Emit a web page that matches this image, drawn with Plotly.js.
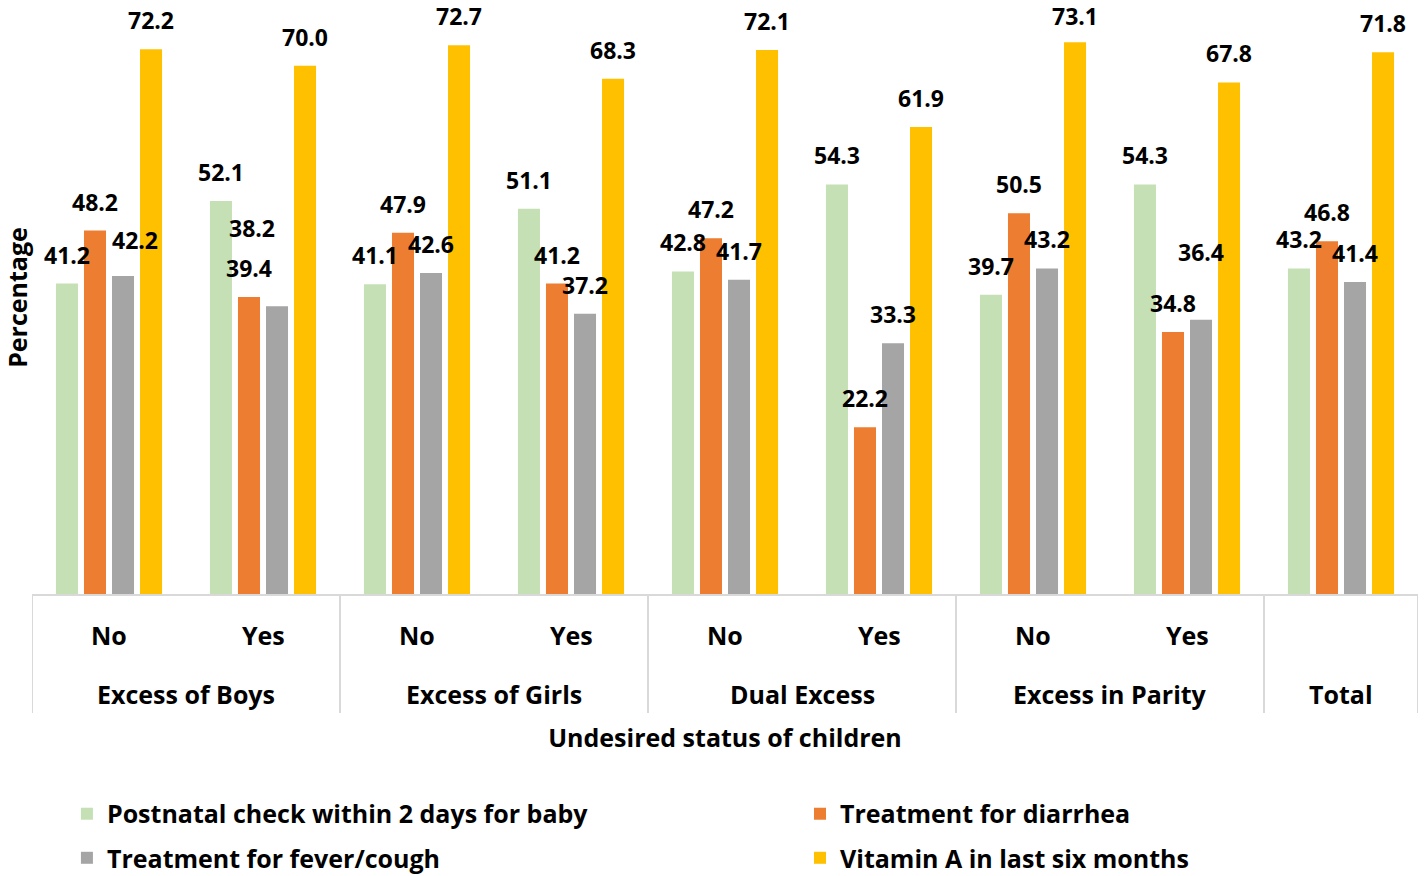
<!DOCTYPE html>
<html>
<head>
<meta charset="utf-8">
<script src="https://cdn.plot.ly/plotly-3.0.1.min.js"></script>
<style>html,body{margin:0;padding:0;background:#fff;}#chart{width:1424px;height:876px;}</style>
</head>
<body>
<div id="chart"></div>
<script>
// ---------------- DATA ----------------
const subLabels = ["No", "Yes", "No", "Yes", "No", "Yes", "No", "Yes", ""];
const groupOf = ["Excess of Boys", "Excess of Boys", "Excess of Girls", "Excess of Girls",
                 "Dual Excess", "Dual Excess", "Excess in Parity", "Excess in Parity", "Total"];
const seriesNames = ["Postnatal check within 2 days for baby", "Treatment for diarrhea",
                     "Treatment for fever/cough", "Vitamin A in last six months"];
const postnatal = [41.2, 52.1, 41.1, 51.1, 42.8, 54.3, 39.7, 54.3, 43.2];
const diarrhea  = [48.2, 39.4, 47.9, 41.2, 47.2, 22.2, 50.5, 34.8, 46.8];
const fever     = [42.2, 38.2, 42.6, 37.2, 41.7, 33.3, 43.2, 36.4, 41.4];
const vitaminA  = [72.2, 70.0, 72.7, 68.3, 72.1, 61.9, 73.1, 67.8, 71.8];
const xTitle = "Undesired status of children";
const yTitle = "Percentage";

// ---------------- STYLE ----------------
const FONT = "'Open Sans', Lato, sans-serif";
const colors = ["#c5e0b4", "#ed7d31", "#a5a5a5", "#ffc000"];
const barWidth = 0.143;
const barCenters = [-0.273, -0.091, 0.091, 0.273];
const labelShift = 29;      // px above bar top
// manual label nudges (series index - category index): [dx px, dy px]
const labelNudges = {"2-0": [12, 36], "2-1": [-25, 78], "2-7": [0, 68], "3-6": [0, 26]};
const lineColor = "#d9d9d9";
// legend entry placement (container fractions): [x, y]
const legendPos = [[0.0470, 0.0708], [0.5618, 0.0708], [0.0470, 0.0205], [0.5618, 0.0205]];

const allSeries = [postnatal, diarrhea, fever, vitaminA];
const xIdx = subLabels.map((_, i) => i);
const legendIds = ["legend", "legend2", "legend3", "legend4"];

const traces = allSeries.map((vals, s) => ({
  type: "bar",
  name: seriesNames[s],
  x: xIdx,
  y: vals,
  width: barWidth,
  offset: barCenters[s] - barWidth / 2,
  marker: {color: colors[s]},
  hoverinfo: "y+name",
  legend: legendIds[s]
}));

const annotations = [];
// data labels
allSeries.forEach((vals, s) => {
  vals.forEach((v, i) => {
    const n = labelNudges[s + "-" + i] || [0, labelShift];
    annotations.push({
      x: i + barCenters[s], y: v, xref: "x", yref: "y",
      text: v.toFixed(1), showarrow: false,
      xshift: n[0], yshift: n[1],
      xanchor: "center", yanchor: "middle",
      font: {family: FONT, size: 23, color: "#000", weight: "bold"}
    });
  });
});
// first-level category labels
subLabels.forEach((t, i) => {
  if (!t) return;
  annotations.push({
    x: i, y: 0, xref: "x", yref: "paper", yshift: -40,
    text: t, showarrow: false, xanchor: "center", yanchor: "middle",
    font: {family: FONT, size: 25, color: "#000", weight: "bold"}
  });
});
// group labels and separators
const groups = [];
groupOf.forEach((g, i) => {
  if (!groups.length || groups[groups.length - 1].name !== g) groups.push({name: g, start: i, end: i});
  else groups[groups.length - 1].end = i;
});
const shapes = [];
const sepBottom = -118 / 595;
groups.forEach((g, k) => {
  annotations.push({
    x: (g.start + g.end) / 2, y: 0, xref: "x", yref: "paper", yshift: -99,
    text: g.name, showarrow: false, xanchor: "center", yanchor: "middle",
    font: {family: FONT, size: 25, color: "#000", weight: "bold"}
  });
  if (k === 0) shapes.push({type: "line", xref: "x", yref: "paper", x0: g.start - 0.5, x1: g.start - 0.5, y0: 0, y1: sepBottom, line: {color: lineColor, width: 2}});
  shapes.push({type: "line", xref: "x", yref: "paper", x0: g.end + 0.5, x1: g.end + 0.5, y0: 0, y1: sepBottom, line: {color: lineColor, width: 2}});
});
shapes.push({type: "line", xref: "paper", yref: "paper", x0: 0, x1: 1, y0: 0, y1: 0, line: {color: lineColor, width: 2}});

const layout = {
  width: 1424, height: 876,
  margin: {l: 32, r: 6, t: 0, b: 281, autoexpand: false},
  paper_bgcolor: "#fff", plot_bgcolor: "#fff",
  font: {family: FONT, color: "#000"},
  barmode: "overlay",
  xaxis: {
    range: [-0.5, subLabels.length - 0.5], showticklabels: false, showgrid: false,
    zeroline: false, showline: false, ticks: "", fixedrange: true,
    title: {text: xTitle, standoff: 134, font: {family: FONT, size: 25, color: "#000", weight: "bold"}}
  },
  yaxis: {
    range: [0, 78.7], showticklabels: false, showgrid: false, zeroline: false,
    showline: false, ticks: "", fixedrange: true,
    title: {text: yTitle, standoff: 6, font: {family: FONT, size: 25, color: "#000", weight: "bold"}}
  },
  showlegend: true,
  annotations: annotations,
  shapes: shapes
};
legendIds.forEach((id, s) => {
  layout[id] = {
    orientation: "h", xref: "container", yref: "container",
    x: legendPos[s][0], xanchor: "left", y: legendPos[s][1], yanchor: "middle",
    font: {family: FONT, size: 25, color: "#000", weight: "bold"}, bgcolor: "rgba(0,0,0,0)"
  };
});

Plotly.newPlot("chart", traces, layout, {displayModeBar: false});
</script>
</body>
</html>
